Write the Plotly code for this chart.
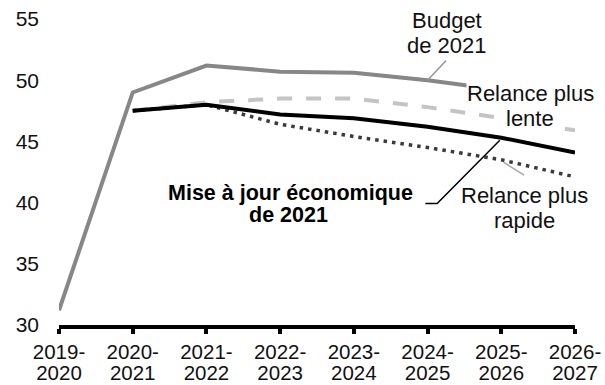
import plotly.graph_objects as go

# Fiscal years shown on the horizontal axis
years = ["2019-2020", "2020-2021", "2021-2022", "2022-2023",
         "2023-2024", "2024-2025", "2025-2026", "2026-2027"]
first_line = [y.split("-")[0] + "-" for y in years]
second_line = [y.split("-")[1] for y in years]

# Debt ratio by scenario (%)
budget_2021 = [31.2, 49.0, 51.2, 50.7, 50.6, 50.0, 49.2]
relance_lente = [None, 47.5, 48.2, 48.5, 48.5, 47.8, 46.9, 45.9]
mise_a_jour = [None, 47.5, 48.0, 47.2, 46.9, 46.2, 45.3, 44.1]
relance_rapide = [None, 47.5, 48.0, 46.4, 45.4, 44.5, 43.5, 42.1]

idx = list(range(len(years)))
FONT = "Arial, Liberation Sans, sans-serif"

fig = go.Figure()
fig.add_trace(go.Scatter(x=idx[:len(budget_2021)], y=budget_2021, mode="lines",
                         line=dict(color="#878787", width=4), name="Budget de 2021"))
fig.add_trace(go.Scatter(x=idx, y=relance_lente, mode="lines",
                         line=dict(color="#c4c4c4", width=4, dash="15px,14px"),
                         name="Relance plus lente"))
fig.add_trace(go.Scatter(x=idx, y=relance_rapide, mode="lines",
                         line=dict(color="#3a3a3a", width=3.5, dash="3.5px,5px"),
                         name="Relance plus rapide"))
fig.add_trace(go.Scatter(x=idx, y=mise_a_jour, mode="lines",
                         line=dict(color="#000000", width=4),
                         name="Mise à jour économique de 2021"))
# empty trace on the second x axis, which carries the second row of year labels
fig.add_trace(go.Scatter(x=[None], y=[None], xaxis="x2", yaxis="y",
                         showlegend=False, hoverinfo="skip"))

# Leader lines connecting labels to their series
fig.add_shape(type="line", x0=5, y0=budget_2021[5], x1=5.25, y1=51.6,
              line=dict(color="#9a9a9a", width=1.5))
fig.add_shape(type="line", x0=6.03, y0=43.3, x1=6.31, y1=42.25,
              line=dict(color="#a8a8a8", width=1.5))
fig.add_shape(type="path", path="M 4.97,39.92 L 5.13,39.92 L 5.98,45.1",
              line=dict(color="#000000", width=1.5))

# Series labels, one annotation per text line
txt = dict(family=FONT, size=22, color="#111111")
bold = dict(family=FONT, size=21.5, color="#000000")
labels = [
    (5.26, 54.86, "Budget", txt, None),
    (5.26, 52.83, "de 2021", txt, None),
    (6.40, 48.89, "Relance plus", txt, "white"),
    (6.39, 46.86, "lente", txt, "white"),
    (6.31, 40.61, "Relance plus", txt, None),
    (6.31, 38.57, "rapide", txt, None),
    (3.134, 40.75, "<b>Mise à jour économique</b>", bold, None),
    (3.107, 38.98, "<b>de 2021</b>", bold, None),
]
for x, y, t, f, bg in labels:
    fig.add_annotation(x=x, y=y, text=t, showarrow=False, font=f,
                       bgcolor=bg if bg else "rgba(0,0,0,0)", borderpad=0)

fig.update_layout(
    width=605, height=385,
    margin=dict(l=59, r=30, t=19, b=60),
    paper_bgcolor="white", plot_bgcolor="white",
    showlegend=False,
    font=dict(family=FONT, size=21, color="#111111"),
    xaxis=dict(range=[0, 7], tickmode="array", tickvals=idx, ticktext=first_line,
               showgrid=False, zeroline=False, showline=True, linecolor="#000000",
               linewidth=4, ticks="outside", ticklen=5, tickwidth=3.5,
               tickcolor="#000000", tickfont=dict(size=20.5), automargin=False),
    xaxis2=dict(overlaying="x", anchor="y", side="bottom", range=[0, 7],
                tickmode="array", tickvals=idx, ticktext=second_line,
                showgrid=False, zeroline=False, showline=False, ticks="",
                ticklabelstandoff=33, tickfont=dict(size=20.5), automargin=False),
    yaxis=dict(range=[30, 55], tickvals=[30, 35, 40, 45, 50, 55],
               showgrid=False, zeroline=False, showline=False, ticks="",
               ticklabelstandoff=19, tickfont=dict(size=21), automargin=False),
)

fig.write_html("out.html")
